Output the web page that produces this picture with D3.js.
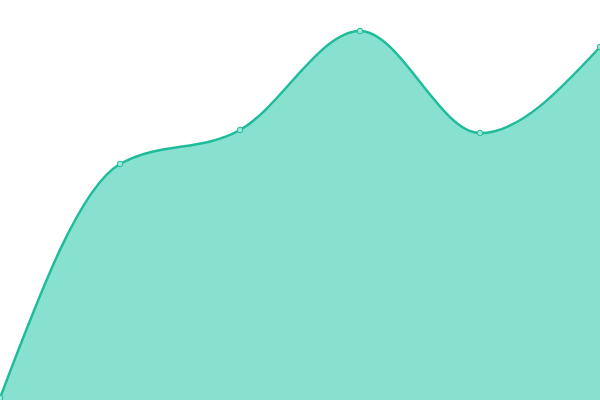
<!DOCTYPE html>
<html lang="en">
<head>
  <meta charset="utf-8">
  <script src="https://d3js.org/d3.v7.min.js"></script>
  <style>
    body { margin: 0; background: #fff; }
  </style>
</head>
<body>
  <svg id="chart" width="600" height="400"></svg>
  <script>
    // data
    const xs = [0, 1, 2, 3, 4, 5];
    const values = [0, 234, 268, 367, 265, 351];

    const svg = d3.select("svg#chart");
    const width = +svg.attr("width");
    const height = +svg.attr("height");

    const x = d3.scaleLinear().domain([0, 5]).range([0, width]);
    const y = d3.scaleLinear().domain([0, 400]).range([398, -2]);

    const pts = xs.map((d, i) => [d, values[i]]);

    svg.append("path")
      .datum(pts)
      .attr("fill", "#88e0cf")
      .attr("d", d3.area()
        .x(d => x(d[0]))
        .y0(height)
        .y1(d => y(d[1]))
        .curve(d3.curveMonotoneX));

    svg.append("path")
      .datum(pts)
      .attr("fill", "none")
      .attr("stroke", "#1fbc9a")
      .attr("stroke-width", 2.5)
      .attr("d", d3.line()
        .x(d => x(d[0]))
        .y(d => y(d[1]))
        .curve(d3.curveMonotoneX));

    svg.selectAll("circle")
      .data(pts)
      .join("circle")
      .attr("cx", d => x(d[0]))
      .attr("cy", d => y(d[1]))
      .attr("r", 2.8)
      .attr("fill", "#9fe6d8")
      .attr("stroke", "#1fbc9a")
      .attr("stroke-width", 1);
  </script>
</body>
</html>
